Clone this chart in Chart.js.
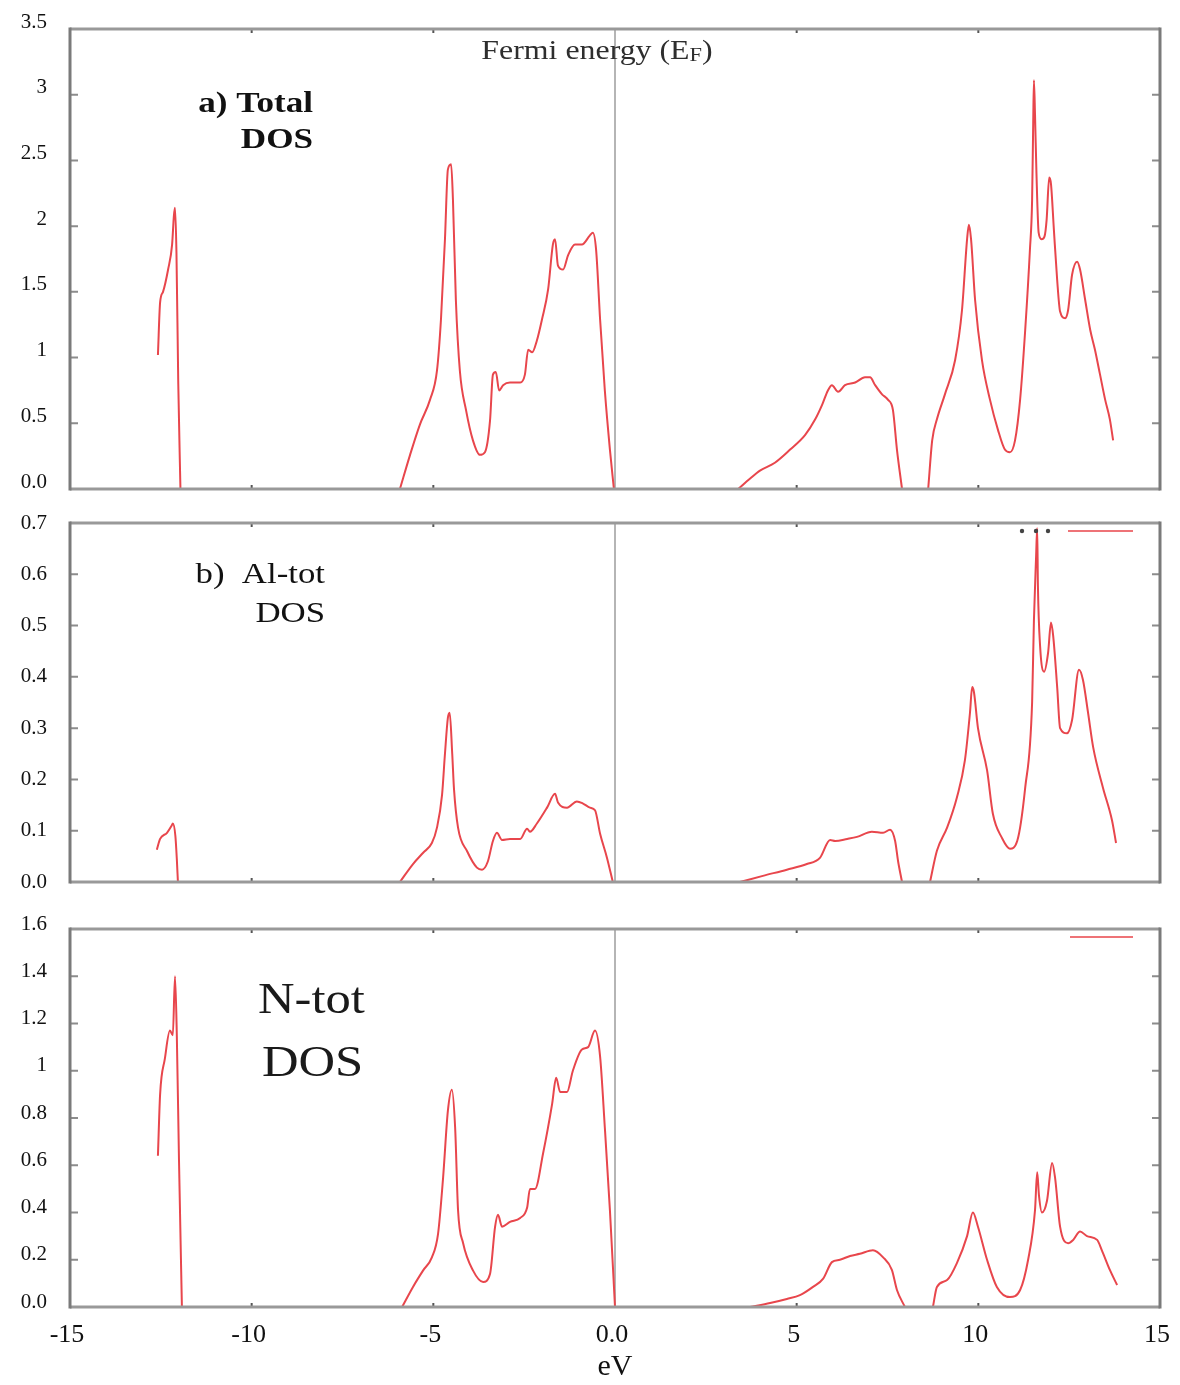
<!DOCTYPE html>
<html>
<head>
<meta charset="utf-8">
<title>AlN density of states</title>
<script src="https://cdn.jsdelivr.net/npm/chart.js@4.4.1/dist/chart.umd.min.js"></script>
<style>
  html, body { margin: 0; padding: 0; background: #fff; }
  #wrap { position: relative; width: 1180px; height: 1385px; overflow: hidden; }
  canvas { position: absolute; left: 0; }
  #chartA { top: 0; }
  #chartB { top: 505px; }
  #chartC { top: 900px; }
</style>
</head>
<body>
<div id="wrap">
  <canvas id="chartA" width="1180" height="505"></canvas>
  <canvas id="chartB" width="1180" height="395"></canvas>
  <canvas id="chartC" width="1180" height="485"></canvas>
</div>
<script>
// shared energy axis (eV)
const xTicks = [-15, -10, -5, 0, 5, 10, 15];
const xTickLabels = ['-15', '-10', '-5', '0.0', '5', '10', '15'];

// a) Total DOS  (null = gap where DOS is zero)
const energyTotal = [
  -12.58, -12.52, -12.44, -12.30, -12.19, -12.14, -12.11, -12.07, -12.02, -11.96, null,
  -5.92, -5.64, -5.37, -5.09, -4.90, -4.79, -4.68, -4.60, -4.51, -4.46, -4.38, -4.27, -4.10, -3.91, -3.72, -3.58,
  -3.44, -3.36, -3.28, -3.19, -3.08, -2.89, -2.61, -2.48, -2.39, -2.28, -2.15, -2.01, -1.84, -1.71, -1.65, -1.57,
  -1.43, -1.29, -1.10, -0.91, -0.69, -0.61, -0.52, -0.41, -0.28, -0.14, -0.03, null,
  3.39, 3.72, 3.99, 4.40, 4.82, 5.23, 5.51, 5.70, 5.86, 5.97, 6.14, 6.33, 6.61, 6.88, 7.02, 7.16, 7.35, 7.51, 7.65, 7.76, 7.90, null,
  8.62, 8.73, 8.86, 9.08, 9.36, 9.55, 9.69, 9.74, 9.80, 9.91, 10.10, 10.32, 10.54, 10.73, 10.87, 11.01, 11.15, 11.29,
  11.42, 11.48, 11.51, 11.53, 11.56, 11.60, 11.66, 11.74, 11.82, 11.88, 11.95, 12.00, 12.08, 12.17, 12.25, 12.39, 12.47,
  12.58, 12.72, 12.80, 12.94, 13.08, 13.21, 13.35, 13.49, 13.62, 13.71
];
const dosTotal = [
  1.02, 1.42, 1.50, 1.67, 1.86, 2.08, 2.14, 1.80, 0.80, 0, null,
  0, 0.26, 0.49, 0.68, 0.90, 1.29, 1.90, 2.43, 2.47, 2.20, 1.44, 0.90, 0.60, 0.37, 0.26, 0.28,
  0.52, 0.87, 0.89, 0.75, 0.79, 0.81, 0.81, 0.87, 1.06, 1.04, 1.13, 1.29, 1.52, 1.86, 1.90, 1.70,
  1.67, 1.78, 1.86, 1.86, 1.93, 1.95, 1.82, 1.29, 0.75, 0.30, 0, null,
  0, 0.08, 0.14, 0.20, 0.30, 0.41, 0.53, 0.64, 0.75, 0.79, 0.74, 0.79, 0.81, 0.85, 0.85, 0.79, 0.72, 0.68, 0.60, 0.30, 0, null,
  0, 0.37, 0.53, 0.72, 0.98, 1.36, 1.90, 2.01, 1.90, 1.44, 0.98, 0.68, 0.45, 0.30, 0.28, 0.37, 0.68, 1.21,
  1.82, 2.20, 2.78, 3.11, 2.85, 2.40, 1.95, 1.90, 1.92, 2.05, 2.37, 2.32, 1.97, 1.59, 1.35, 1.30, 1.36,
  1.63, 1.73, 1.67, 1.44, 1.21, 1.06, 0.87, 0.68, 0.53, 0.37
];

// b) Al-tot DOS
const energyAl = [
  -12.61, -12.52, -12.33, -12.20, -12.17, -12.10, -12.06, -12.03, null,
  -5.92, -5.56, -5.28, -5.04, -4.90, -4.76, -4.68, -4.60, -4.55, -4.48, -4.43, -4.32, -4.07, -3.80, -3.66, -3.50,
  -3.36, -3.25, -3.11, -2.89, -2.61, -2.42, -2.34, -2.15, -1.87, -1.65, -1.57, -1.32, -1.05, -0.88, -0.69, -0.55,
  -0.41, -0.22, -0.06, null,
  3.44, 4.07, 4.73, 5.28, 5.64, 5.92, 6.06, 6.39, 6.66, 7.07, 7.38, 7.57, 7.71, 7.79, 7.90, null,
  8.67, 8.86, 9.14, 9.41, 9.63, 9.77, 9.83, 9.88, 9.99, 10.24, 10.40, 10.65, 10.87, 11.07, 11.29, 11.48, 11.53,
  11.59, 11.62, 11.64, 11.70, 11.81, 11.92, 12.00, 12.06, 12.17, 12.25, 12.44, 12.58, 12.77, 12.88, 13.02, 13.16,
  13.43, 13.68, 13.79
];
const dosAl = [
  0.063, 0.084, 0.096, 0.110, 0.114, 0.090, 0.045, 0, null,
  0, 0.035, 0.057, 0.076, 0.106, 0.170, 0.250, 0.320, 0.330, 0.250, 0.180, 0.106, 0.060, 0.028, 0.024, 0.040,
  0.080, 0.096, 0.082, 0.084, 0.084, 0.104, 0.098, 0.114, 0.145, 0.172, 0.155, 0.145, 0.157, 0.153, 0.145, 0.140,
  0.094, 0.047, 0, null,
  0, 0.012, 0.024, 0.035, 0.047, 0.082, 0.080, 0.084, 0.088, 0.098, 0.096, 0.102, 0.080, 0.041, 0, null,
  0, 0.061, 0.106, 0.165, 0.237, 0.330, 0.380, 0.370, 0.300, 0.218, 0.133, 0.086, 0.065, 0.080, 0.184, 0.350, 0.510,
  0.635, 0.690, 0.577, 0.460, 0.410, 0.447, 0.506, 0.480, 0.380, 0.300, 0.290, 0.316, 0.414, 0.394, 0.330, 0.263,
  0.184, 0.120, 0.076
];

// c) N-tot DOS
const energyN = [
  -12.58, -12.52, -12.39, -12.25, -12.17, -12.11, -12.06, -12.00, -11.92, null,
  -5.86, -5.56, -5.28, -5.04, -4.87, -4.73, -4.60, -4.49, -4.40, -4.32, -4.18, -3.91, -3.63, -3.44, -3.30, -3.22,
  -3.11, -2.89, -2.61, -2.42, -2.34, -2.20, -1.98, -1.73, -1.62, -1.51, -1.32, -1.16, -0.91, -0.74, -0.55, -0.41,
  -0.28, -0.14, 0.0, null,
  3.72, 4.27, 4.73, 5.09, 5.45, 5.73, 5.97, 6.19, 6.47, 6.74, 7.10, 7.38, 7.62, 7.76, 7.98, null,
  8.75, 8.86, 9.14, 9.41, 9.69, 9.85, 9.99, 10.24, 10.51, 10.87, 11.15, 11.37, 11.56, 11.62, 11.67, 11.75, 11.89,
  12.03, 12.11, 12.25, 12.47, 12.61, 12.80, 12.99, 13.27, 13.40, 13.62, 13.82
];
const dosN = [
  0.64, 0.90, 1.05, 1.17, 1.15, 1.40, 1.15, 0.62, 0, null,
  0, 0.085, 0.155, 0.21, 0.31, 0.55, 0.83, 0.92, 0.76, 0.41, 0.27, 0.155, 0.106, 0.14, 0.34, 0.39,
  0.34, 0.36, 0.377, 0.42, 0.50, 0.50, 0.65, 0.86, 0.97, 0.91, 0.91, 1.00, 1.09, 1.10, 1.17, 1.06,
  0.76, 0.41, 0, null,
  0, 0.017, 0.034, 0.05, 0.085, 0.12, 0.19, 0.20, 0.216, 0.225, 0.24, 0.21, 0.157, 0.072, 0, null,
  0, 0.085, 0.114, 0.186, 0.30, 0.40, 0.34, 0.20, 0.085, 0.042, 0.072, 0.20, 0.41, 0.57, 0.47, 0.40, 0.45,
  0.61, 0.55, 0.34, 0.27, 0.284, 0.32, 0.30, 0.284, 0.24, 0.157, 0.093
];

const yTicksTotal = [0, 0.5, 1, 1.5, 2, 2.5, 3, 3.5];
const yLabelsTotal = ['0.0', '0.5', '1', '1.5', '2', '2.5', '3', '3.5'];
const yTicksAl = [0, 0.1, 0.2, 0.3, 0.4, 0.5, 0.6, 0.7];
const yLabelsAl = ['0.0', '0.1', '0.2', '0.3', '0.4', '0.5', '0.6', '0.7'];
const yTicksN = [0, 0.2, 0.4, 0.6, 0.8, 1, 1.2, 1.4, 1.6];
const yLabelsN = ['0.0', '0.2', '0.4', '0.6', '0.8', '1', '1.2', '1.4', '1.6'];

const SERIF = "'Liberation Serif', 'Times New Roman', serif";
const curveColor = 'rgb(232, 70, 76)';

document.addEventListener('DOMContentLoaded', function() {
    // frame, inner ticks, Fermi level line and panel captions
    const panelDecor = {
        id: 'panelDecor',
        beforeDatasetsDraw(chart) {
            const { ctx, chartArea: a, scales: { x } } = chart;
            const x0 = x.getPixelForValue(0);
            ctx.save();
            ctx.strokeStyle = '#b5b5b5';
            ctx.lineWidth = 2;
            ctx.beginPath();
            ctx.moveTo(x0, a.top);
            ctx.lineTo(x0, a.bottom);
            ctx.stroke();
            ctx.restore();
        },
        afterDatasetsDraw(chart) {
            const { ctx, chartArea: a, scales: { x, y } } = chart;
            ctx.save();
            ctx.strokeStyle = '#8c8c8c';
            ctx.lineWidth = 2;
            y.ticks.slice(1, -1).forEach(t => {
                const py = y.getPixelForValue(t.value);
                ctx.beginPath();
                ctx.moveTo(a.left, py); ctx.lineTo(a.left + 8, py);
                ctx.moveTo(a.right - 8, py); ctx.lineTo(a.right, py);
                ctx.stroke();
            });
            ctx.strokeStyle = '#555';
            xTicks.filter(v => v !== 0 && v > -15 && v < 15).forEach(v => {
                const px = x.getPixelForValue(v);
                ctx.beginPath();
                ctx.moveTo(px, a.top); ctx.lineTo(px, a.top + 4);
                ctx.moveTo(px, a.bottom); ctx.lineTo(px, a.bottom - 4);
                ctx.stroke();
            });
            ctx.lineWidth = 3;
            ctx.strokeStyle = '#999';
            ctx.beginPath();
            ctx.moveTo(a.left, a.top); ctx.lineTo(a.right, a.top);
            ctx.moveTo(a.left, a.bottom); ctx.lineTo(a.right, a.bottom);
            ctx.stroke();
            ctx.strokeStyle = '#7a7a7a';
            ctx.beginPath();
            ctx.moveTo(a.left, a.top - 1.5); ctx.lineTo(a.left, a.bottom + 1.5);
            ctx.moveTo(a.right, a.top - 1.5); ctx.lineTo(a.right, a.bottom + 1.5);
            ctx.stroke();
            ctx.restore();
        },
        afterDraw(chart, args, opts) {
            const ctx = chart.ctx;
            ctx.save();
            (opts.notes || []).forEach(n => {
                ctx.save();
                ctx.font = n.font;
                ctx.fillStyle = n.color || '#111';
                ctx.textBaseline = 'alphabetic';
                ctx.translate(n.x, n.y);
                ctx.scale(n.stretch || 1, 1);
                const w = ctx.measureText(n.text).width;
                ctx.fillText(n.text, n.align === 'right' ? -w : 0, 0);
                ctx.restore();
            });
            if (opts.fermi) {
                const f = opts.fermi;
                const big = f.size + 'px ' + SERIF;
                const small = Math.round(f.size * 0.72) + 'px ' + SERIF;
                ctx.save();
                ctx.fillStyle = '#2e2e2e';
                ctx.font = big;
                const main = 'Fermi energy (E';
                const wMain = ctx.measureText(main).width;
                const wEnd = ctx.measureText(')').width;
                ctx.font = small;
                const wSub = ctx.measureText('F').width;
                const total = (wMain + wSub + wEnd) * f.stretch;
                ctx.translate(f.cx - total / 2, f.y);
                ctx.scale(f.stretch, 1);
                ctx.font = big;
                ctx.fillText(main, 0, 0);
                ctx.font = small;
                ctx.fillText('F', wMain, 2);
                ctx.font = big;
                ctx.fillText(')', wMain + wSub, 0);
                ctx.restore();
            }
            if (opts.key) {
                const k = opts.key;
                ctx.strokeStyle = 'rgba(235, 90, 95, 0.85)';
                ctx.lineWidth = 2;
                ctx.beginPath();
                ctx.moveTo(k.x1, k.y); ctx.lineTo(k.x2, k.y);
                ctx.stroke();
                if (k.dots) {
                    ctx.fillStyle = '#444';
                    k.dots.forEach(d => {
                        ctx.beginPath();
                        ctx.arc(d, k.y, 2.2, 0, Math.PI * 2);
                        ctx.fill();
                    });
                }
            }
            ctx.restore();
        }
    };

    // drop the label overhang Chart.js adds, so every plot area lines up exactly
    function noOverhang(s) {
        s.paddingLeft = 0;
        s.paddingRight = 0;
        s.paddingTop = 0;
        s.paddingBottom = 0;
    }

    function makePanel(canvasId, energy, dos, yTicks, yLabels, cfg) {
        const points = energy.map((e, i) => ({ x: e, y: dos[i] }));
        return new Chart(document.getElementById(canvasId), {
            type: 'line',
            data: {
                datasets: [{
                    data: points,
                    borderColor: curveColor,
                    borderWidth: 2,
                    pointRadius: 0,
                    cubicInterpolationMode: 'monotone',
                    spanGaps: false
                }]
            },
            options: {
                responsive: false,
                animation: false,
                layout: { padding: { top: cfg.padTop, bottom: cfg.padBottom, left: 0, right: 20 } },
                plugins: {
                    legend: { display: false },
                    tooltip: { enabled: false },
                    panelDecor: cfg.decor
                },
                scales: {
                    x: {
                        type: 'linear',
                        min: -15,
                        max: 15,
                        display: cfg.showX,
                        grid: { display: false, drawTicks: false },
                        border: { display: false },
                        afterBuildTicks: s => { s.ticks = xTicks.map(v => ({ value: v })); },
                        afterFit: s => {
                            s.height = cfg.showX ? 78 : 0;
                            noOverhang(s);
                        },
                        ticks: {
                            callback: (v, i) => xTickLabels[i],
                            color: '#111',
                            padding: 13,
                            labelOffset: -3,
                            maxRotation: 0,
                            font: { family: SERIF, size: 26 }
                        },
                        title: {
                            display: true,
                            text: 'eV',
                            color: '#111',
                            padding: { top: 0, bottom: 0 },
                            font: { family: SERIF, size: 30 }
                        }
                    },
                    y: {
                        min: 0,
                        max: yTicks[yTicks.length - 1],
                        grid: { display: false, drawTicks: false },
                        border: { display: false },
                        afterBuildTicks: s => { s.ticks = yTicks.map(v => ({ value: v })); },
                        afterFit: s => {
                            s.width = 70;
                            noOverhang(s);
                        },
                        ticks: {
                            callback: (v, i) => yLabels[i],
                            color: '#111',
                            padding: 23,
                            labelOffset: cfg.labelOffset,
                            font: { family: SERIF, size: 21 }
                        }
                    }
                }
            },
            plugins: [panelDecor]
        });
    }

    makePanel('chartA', energyTotal, dosTotal, yTicksTotal, yLabelsTotal, {
        padTop: 29, padBottom: 16, showX: false, labelOffset: -7,
        decor: {
            fermi: { cx: 597, y: 59, size: 27, stretch: 1.18 },
            notes: [
                { text: 'a) Total', x: 313, y: 112, align: 'right', stretch: 1.17, font: 'bold 30px ' + SERIF },
                { text: 'DOS', x: 313, y: 148, align: 'right', stretch: 1.17, font: 'bold 30px ' + SERIF }
            ]
        }
    });

    makePanel('chartB', energyAl, dosAl, yTicksAl, yLabelsAl, {
        padTop: 18, padBottom: 18, showX: false, labelOffset: 0,
        decor: {
            key: { x1: 1068, x2: 1133, y: 26, dots: [1022, 1036, 1048] },
            notes: [
                { text: 'b)  Al-tot', x: 325, y: 78, align: 'right', stretch: 1.2, font: '29px ' + SERIF },
                { text: 'DOS', x: 325, y: 117, align: 'right', stretch: 1.2, font: '29px ' + SERIF }
            ]
        }
    });

    makePanel('chartC', energyN, dosN, yTicksN, yLabelsN, {
        padTop: 29, padBottom: 0, showX: true, labelOffset: -5,
        decor: {
            key: { x1: 1070, x2: 1133, y: 37 },
            notes: [
                { text: 'N-tot', x: 258, y: 113, stretch: 1.15, color: '#1a1a1a', font: '44px ' + SERIF },
                { text: 'DOS', x: 262, y: 176, stretch: 1.15, color: '#1a1a1a', font: '44px ' + SERIF }
            ]
        }
    });
});
</script>
</body>
</html>
